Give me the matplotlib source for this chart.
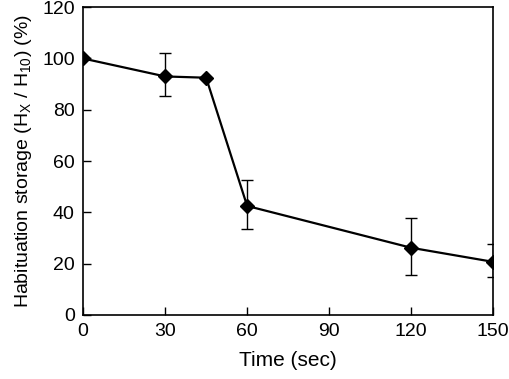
import matplotlib
matplotlib.use("Agg")
import matplotlib.pyplot as plt
import numpy as np

plt.rcParams['font.family'] = ['Liberation Sans', 'DejaVu Sans']
plt.rcParams['mathtext.default'] = 'regular'

# data
time_sec = [0, 30, 45, 60, 120, 150]
storage = [100, 93, 92.5, 42.5, 26.2, 20.7]
err_low = [0, 7.6, 0, 9.1, 10.8, 6.0]
err_high = [0, 9.2, 0, 10.0, 11.6, 7.0]

fig = plt.figure(figsize=(5.1, 3.79), dpi=100)
ax = fig.add_axes([0.163, 0.169, 0.804, 0.812])

ax.errorbar(time_sec, storage, yerr=[err_low, err_high], color='black',
            marker='D', markersize=7.5, linewidth=1.6, elinewidth=1.0,
            capsize=4, capthick=1.0)

ax.set_xlim(0, 150)
ax.set_ylim(0, 120)
ax.set_xticks([0, 30, 60, 90, 120, 150])
ax.set_yticks(np.arange(0, 121, 20))
ax.tick_params(direction='in', length=6, width=1, labelsize=14, pad=6)
for s in ax.spines.values():
    s.set_linewidth(1.2)

ax.set_xlabel('Time (sec)', fontsize=15, labelpad=8)
ax.set_ylabel('Habituation storage (H$_{X}$ / H$_{10}$) (%)', fontsize=14, labelpad=6)

fig.savefig('out.png', dpi=100)
